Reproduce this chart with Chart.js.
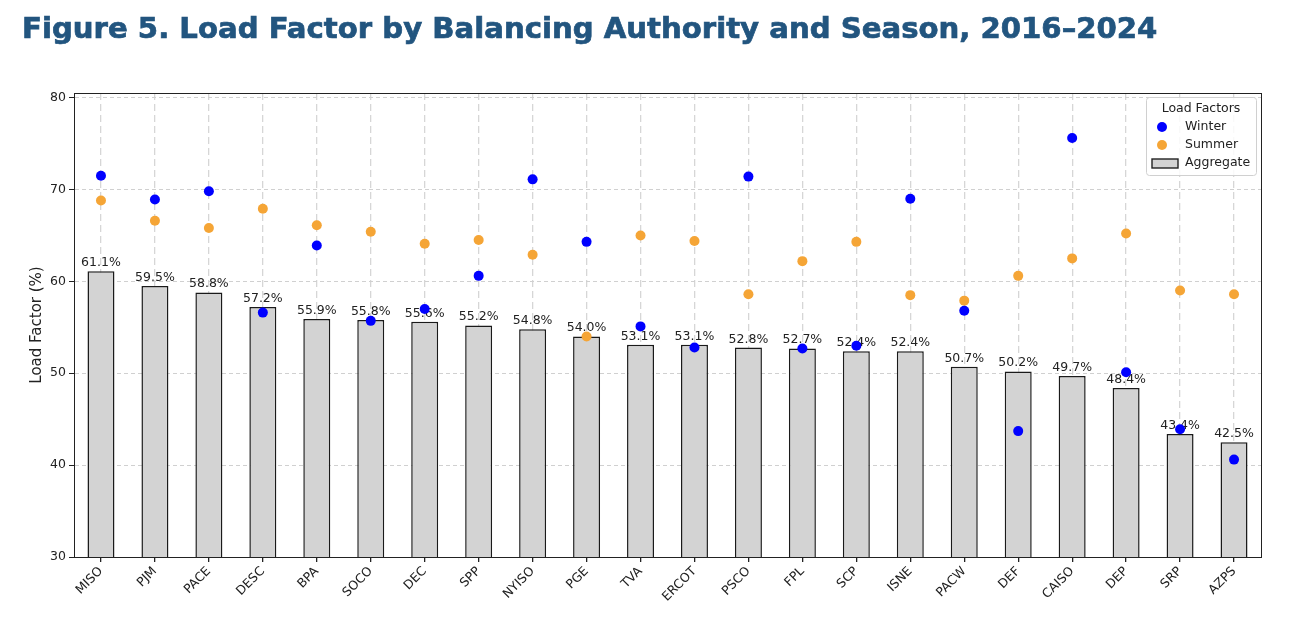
<!DOCTYPE html>
<html><head><meta charset="utf-8">
<script src="https://cdn.jsdelivr.net/npm/chart.js@4.4.1/dist/chart.umd.min.js"></script>
<style>
html,body{margin:0;padding:0;background:#fff;width:1292px;height:620px;overflow:hidden;}
#title{position:absolute;left:22px;top:8px;font-family:"DejaVu Sans",sans-serif;font-weight:700;font-size:28px;color:#22557f;-webkit-text-stroke:0.7px #22557f;white-space:nowrap;line-height:40px;}
#wrap{position:absolute;left:0;top:0;width:1292px;height:620px;}
</style></head><body>
<div id="wrap"><canvas id="c" width="1292" height="620"></canvas></div>
<div id="title">Figure 5. Load Factor by Balancing Authority and Season, 2016–2024</div>
<script>
const categories = ["MISO","PJM","PACE","DESC","BPA","SOCO","DEC","SPP","NYISO","PGE","TVA","ERCOT","PSCO","FPL","SCP","ISNE","PACW","DEF","CAISO","DEP","SRP","AZPS"];
const aggregate = [61.1,59.5,58.8,57.2,55.9,55.8,55.6,55.2,54.8,54.0,53.1,53.1,52.8,52.7,52.4,52.4,50.7,50.2,49.7,48.4,43.4,42.5];
const winter = [71.5,68.9,69.8,56.6,63.9,55.7,57.0,60.6,71.1,64.3,55.1,52.8,71.4,52.7,53.0,69.0,56.8,43.7,75.6,50.1,43.9,40.6];
const summer = [68.8,66.6,65.8,67.9,66.1,65.4,64.1,64.5,62.9,54.0,65.0,64.4,58.6,62.2,64.3,58.5,57.9,60.6,62.5,65.2,59.0,58.6];
const yTickValues = [30,40,50,60,70,80];

// fit title width
(function(){
  const t = document.getElementById('title');
  const target = 1136;
  const w = t.getBoundingClientRect().width;
  t.style.fontSize = (28 * target / w).toFixed(2) + 'px';
})();

const FONT = "'DejaVu Sans', sans-serif";

const barLabels = {
  id: 'barLabels',
  afterDatasetDraw(chart, args) {
    if (args.index !== 2) return;
    const ctx = chart.ctx;
    const meta = args.meta;
    ctx.save();
    ctx.font = "12.5px " + FONT;
    ctx.fillStyle = '#222';
    ctx.textAlign = 'center';
    ctx.textBaseline = 'bottom';
    meta.data.forEach((el, i) => {
      ctx.fillText(aggregate[i].toFixed(1) + '%', el.x, el.y - 2);
    });
    ctx.restore();
  }
};

const frame = {
  id: 'frame',
  afterDraw(chart) {
    const {ctx, chartArea: a} = chart;
    ctx.save();
    ctx.strokeStyle = '#222';
    ctx.lineWidth = 1;
    ctx.strokeRect(Math.round(a.left) + 0.5, Math.round(a.top) + 0.5, Math.round(a.right - a.left), Math.round(a.bottom - a.top));
    // legend
    const bw = 110, bh = 78;
    const bx = a.right - bw - 5, by = a.top + 4;
    ctx.fillStyle = 'rgba(255,255,255,0.85)';
    ctx.strokeStyle = '#d0d0d0';
    ctx.beginPath();
    if (ctx.roundRect) ctx.roundRect(bx + 0.5, by + 0.5, bw, bh, 3); else ctx.rect(bx + 0.5, by + 0.5, bw, bh);
    ctx.fill(); ctx.stroke();
    ctx.font = "12.5px " + FONT;
    ctx.fillStyle = '#222';
    ctx.textBaseline = 'middle';
    ctx.textAlign = 'center';
    ctx.fillText('Load Factors', bx + bw / 2, by + 12);
    ctx.textAlign = 'left';
    const ds = chart.data.datasets;
    const rows = [by + 30, by + 48, by + 66];
    ctx.fillStyle = ds[0].backgroundColor;
    ctx.beginPath(); ctx.arc(bx + 16, rows[0], 5, 0, Math.PI * 2); ctx.fill();
    ctx.fillStyle = '#222'; ctx.fillText(ds[0].label, bx + 39, rows[0]);
    ctx.fillStyle = ds[1].backgroundColor;
    ctx.beginPath(); ctx.arc(bx + 16, rows[1], 5, 0, Math.PI * 2); ctx.fill();
    ctx.fillStyle = '#222'; ctx.fillText(ds[1].label, bx + 39, rows[1]);
    ctx.fillStyle = ds[2].backgroundColor;
    ctx.fillRect(bx + 6, rows[2] - 4, 26, 9);
    ctx.strokeStyle = '#222'; ctx.lineWidth = 1.4;
    ctx.strokeRect(bx + 6, rows[2] - 4, 26, 9);
    ctx.fillStyle = '#222'; ctx.fillText(ds[2].label, bx + 39, rows[2]);
    ctx.restore();
  }
};

new Chart(document.getElementById('c'), {
  type: 'bar',
  data: {
    labels: categories,
    datasets: [
      { type: 'line', label: 'Winter', data: winter, showLine: false, backgroundColor: '#0000ff', borderColor: '#0000ff', pointRadius: 5, pointBorderWidth: 0, order: 1 },
      { type: 'line', label: 'Summer', data: summer, showLine: false, backgroundColor: '#f5a536', borderColor: '#f5a536', pointRadius: 5, pointBorderWidth: 0, order: 2 },
      { type: 'bar', label: 'Aggregate', data: aggregate, backgroundColor: '#d3d3d3', borderColor: '#1a1a1a', borderWidth: 1.5, borderSkipped: false, categoryPercentage: 1, barPercentage: 0.5, order: 3 }
    ]
  },
  options: {
    responsive: false,
    animation: false,
    devicePixelRatio: 1,
    layout: { padding: { top: 93, right: 31, left: 24, bottom: 0 } },
    plugins: { legend: { display: false }, tooltip: { enabled: false }, title: { display: false } },
    scales: {
      x: {
        grid: { offset: false, color: '#d6d6d6', lineWidth: 1.3, tickLength: 5, tickColor: '#222', tickBorderDash: [], drawOnChartArea: true },
        border: { dash: [7, 4], color: '#222' },
        ticks: { font: { family: FONT, size: 12.5 }, color: '#222', minRotation: 45, maxRotation: 45, padding: 2 },
        afterFit(s) { s.height = 63; }
      },
      y: {
        min: 30, max: 80.5,
        afterBuildTicks(s) { s.ticks = yTickValues.map(v => ({ value: v })); },
        grid: { color: '#d0d0d0', lineWidth: 1, tickLength: 5, tickColor: '#222', tickBorderDash: [] },
        border: { dash: [4, 3], color: '#222' },
        ticks: { font: { family: FONT, size: 12.5 }, color: '#222', padding: 3 },
        title: { display: true, text: 'Load Factor (%)', font: { family: FONT, size: 15 }, color: '#222', padding: { top: 4, bottom: 4 } },
        afterFit(s) { s.width = 50; }
      }
    }
  },
  plugins: [barLabels, frame]
});
</script>
</body></html>
